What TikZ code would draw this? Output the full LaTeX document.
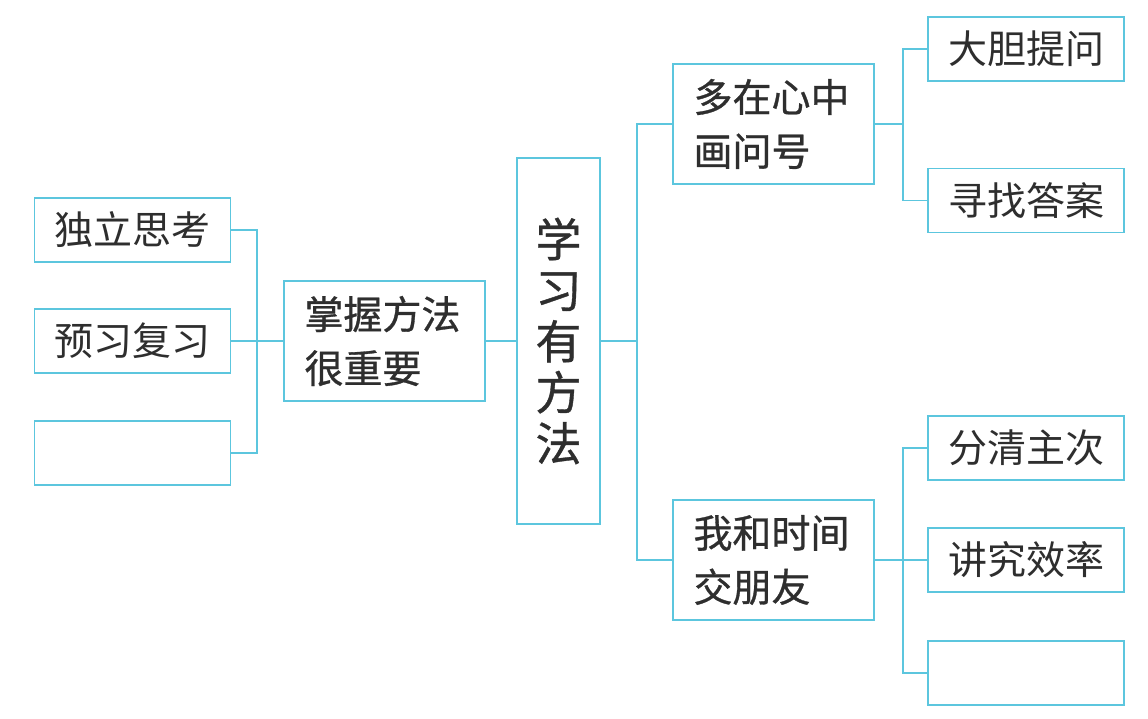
\documentclass[tikz,border=0pt]{standalone}
\usepackage{fontspec}
\newfontfamily\cjk{Noto Sans CJK SC}
\newfontfamily\cjkb[FakeBold=0.8]{Noto Sans CJK SC}
\definecolor{boxc}{HTML}{5CC6DE}
\definecolor{txt}{HTML}{2E2E2E}
\begin{document}
\begin{tikzpicture}[x=1pt,y=-1pt,
  line/.style={draw=boxc,line width=1.4pt},
  leaf/.style={draw=boxc,line width=1.4pt,minimum width=196pt,minimum height=64pt,inner sep=0pt,text=txt,font=\cjk\fontsize{39}{46}\selectfont},
  mid/.style={draw=boxc,line width=1.4pt,minimum width=201pt,minimum height=120pt,inner sep=0pt,text=txt,align=left,text width=160pt,font=\cjkb\fontsize{39}{54}\selectfont},
  root/.style={draw=boxc,line width=1.4pt,minimum width=83pt,minimum height=366pt,inner sep=0pt,text=txt,align=center,font=\cjkb\fontsize{46}{51}\selectfont}
]
\useasboundingbox (0,0) rectangle (1148,719);
\fill[white] (0,0) rectangle (1148,719);
% left leaves
\node[leaf] (a1) at (132.5,230) {独立思考};
\node[leaf] (a2) at (132.5,341) {预习复习};
\node[leaf] (a3) at (132.5,453) {};
% middle
\node[mid] (b) at (384.5,341) {掌握方法\\很重要};
\node[root] (c) at (558.5,341) {学\\习\\有\\方\\法};
\node[mid] (d1) at (773.5,124) {多在心中\\画问号};
\node[mid] (d2) at (773.5,560) {我和时间\\交朋友};
% right leaves
\node[leaf] (e1) at (1026,49) {大胆提问};
\node[leaf] (e2) at (1026,200.5) {寻找答案};
\node[leaf] (e3) at (1026,448) {分清主次};
\node[leaf] (e4) at (1026,560) {讲究效率};
\node[leaf] (e5) at (1026,673) {};
% junctions
\coordinate (jl) at (257,341);
\coordinate (jr) at (637,341);
\coordinate (j1) at (903,124);
\coordinate (j2) at (903,560);
% connectors
\draw[line] (a1.east) -| (jl);
\draw[line] (a3.east) -| (jl);
\draw[line] (a2.east) -- (b.west);
\draw[line] (b.east) -- (c.west);
\draw[line] (c.east) -- (jr);
\draw[line] (d1.west) -| (jr);
\draw[line] (d2.west) -| (jr);
\draw[line] (d1.east) -- (j1);
\draw[line] (e1.west) -| (j1);
\draw[line] (e2.west) -| (j1);
\draw[line] (d2.east) -- (e4.west);
\draw[line] (e3.west) -| (j2);
\draw[line] (e5.west) -| (j2);
\end{tikzpicture}
\end{document}
